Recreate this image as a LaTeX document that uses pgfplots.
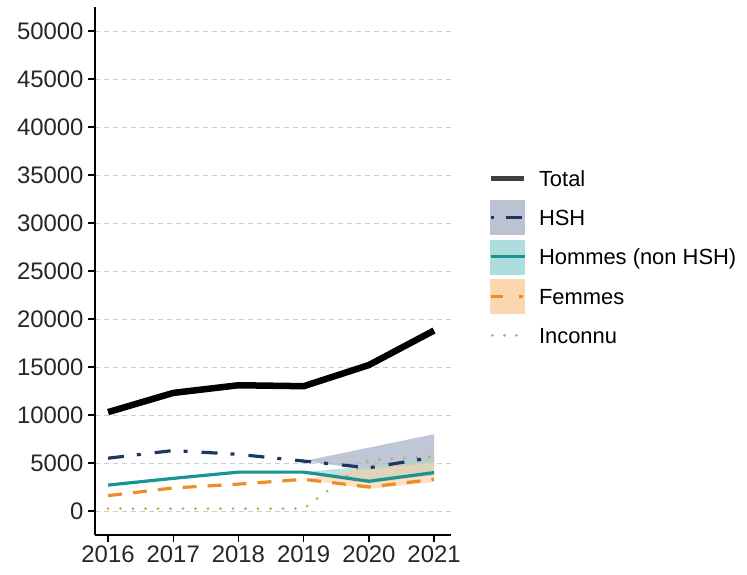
\documentclass[border=0pt]{standalone}
\usepackage{pgfplots}
\pgfplotsset{compat=1.18}
\usepackage{fontspec}
\setmainfont{Liberation Sans}
\definecolor{hshc}{RGB}{28,56,98}
\definecolor{homc}{RGB}{26,148,146}
\definecolor{femc}{RGB}{238,140,40}
\definecolor{incc}{RGB}{200,168,76}
\definecolor{hshb}{RGB}{170,180,200}
\definecolor{homb}{RGB}{160,215,216}
\definecolor{femb}{RGB}{250,200,150}
\definecolor{gridc}{RGB}{205,205,205}
\begin{document}
\begin{tikzpicture}
\path[use as bounding box] (0,0) rectangle (747bp,575bp);
\begin{axis}[
  at={(95bp,40bp)}, anchor=south west,
  scale only axis, width=356bp, height=528bp,
  xmin=2015.8, xmax=2021.26, ymin=-2500, ymax=52500,
  axis lines=left,
  axis line style={-, line width=1.6bp, black},
  xtick={2016,2017,2018,2019,2020,2021},
  ytick={0,5000,10000,15000,20000,25000,30000,35000,40000,45000,50000},
  scaled ticks=false,
  tick align=outside, major tick length=7bp,
  tick style={line width=1.4bp, black},
  ymajorgrids,
  grid style={gridc, line width=0.7bp, dash pattern=on 5bp off 4bp},
  /pgf/number format/assume math mode=true,
  /pgf/number format/set thousands separator={},
  /pgf/number format/fixed,
  ticklabel style={font=\fontsize{24}{28}\selectfont, text=black!85},
  yticklabel style={xshift=-1bp},
  legend style={at={(1.095,0.527)}, anchor=west, draw=none, fill=none,
     font=\fontsize{22}{26}\selectfont, row sep=5bp,
     nodes={text height=16bp, text depth=0bp, inner xsep=13bp, inner ysep=2bp}},
  legend cell align=left,
]
% legend images
\addlegendimage{legend image code/.code={\path[draw=none, fill=none] (0bp,-17bp) rectangle (34bp,17bp); \draw[black!75, line width=5bp] (0bp,0bp) -- (33bp,0bp);}}
\addlegendentry{Total}
\addlegendimage{legend image code/.code={\fill[hshb!80] (0bp,-17bp) rectangle (34bp,17bp); \draw[hshc, line width=3bp, dash pattern=on 3bp off 12bp on 16bp off 10bp] (0bp,0bp) -- (34bp,0bp);}}
\addlegendentry{HSH}
\addlegendimage{legend image code/.code={\fill[homb!85] (0bp,-17bp) rectangle (34bp,17bp); \draw[homc, line width=3bp] (0bp,0bp) -- (34bp,0bp);}}
\addlegendentry{Hommes (non HSH)}
\addlegendimage{legend image code/.code={\fill[femb!75] (0bp,-17bp) rectangle (34bp,17bp); \draw[femc, line width=3bp, dash pattern=on 12bp off 16bp on 4bp off 10bp] (0bp,0bp) -- (34bp,0bp);}}
\addlegendentry{Femmes}
\addlegendimage{legend image code/.code={\path[draw=none, fill=none] (0bp,-17bp) rectangle (34bp,17bp); \draw[incc, line width=3bp, line cap=round, dash pattern=on 0bp off 12bp] (2bp,0bp) -- (34bp,0bp);}}
\addlegendentry{Inconnu}
% bands
\addplot[forget plot, draw=none, fill=hshb, fill opacity=0.75] coordinates {(2019,5200) (2020,6600) (2021,8000) (2021,5000) (2020,4300) (2019,5200)} -- cycle;
\addplot[forget plot, draw=none, fill=homb, fill opacity=0.7] coordinates {(2019,4050) (2020,4700) (2021,5600) (2021,3700) (2020,2900) (2019,4050)} -- cycle;
\addplot[forget plot, draw=none, fill=femb, fill opacity=0.55] coordinates {(2019,3300) (2020,4500) (2021,5200) (2021,3000) (2020,2300) (2019,3300)} -- cycle;
% lines
\addplot[forget plot, incc, line width=3bp, line cap=round, dash pattern=on 0bp off 12.5bp] coordinates {(2016,250) (2017,250) (2018,250) (2019,250) (2020,5300) (2021,5700)};
\addplot[forget plot, femc, line width=3.2bp, dash pattern=on 14bp off 11bp] coordinates {(2016,1600) (2017,2400) (2018,2800) (2019,3300) (2020,2500) (2021,3300)};
\addplot[forget plot, homc, line width=3.2bp] coordinates {(2016,2700) (2017,3400) (2018,4050) (2019,4050) (2020,3100) (2021,4000)};
\addplot[forget plot, hshc, line width=3.2bp, dash pattern=on 16bp off 13bp on 4bp off 14bp] coordinates {(2016,5500) (2017,6300) (2018,5900) (2019,5200) (2020,4500) (2021,5600)};
\addplot[forget plot, black, line width=6.5bp, line join=round] coordinates {(2016,10300) (2017,12300) (2018,13100) (2019,13000) (2020,15200) (2021,18800)};
\end{axis}
\end{tikzpicture}
\end{document}
